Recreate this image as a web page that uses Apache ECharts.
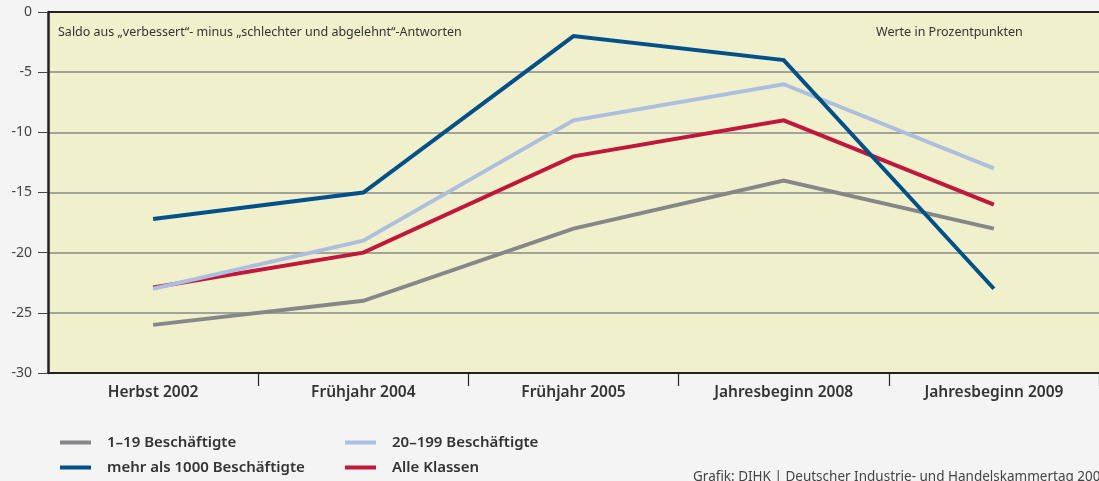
<!DOCTYPE html>
<html><head><meta charset="utf-8">
<script src="https://cdn.jsdelivr.net/npm/echarts@6/dist/echarts.min.js"></script>
<style>html,body{margin:0;padding:0;background:#f3f4f3;}#c{width:1099px;height:481px;}</style>
</head><body><div id="c"></div>
<script>
var categories = ['Herbst 2002', 'Frühjahr 2004', 'Frühjahr 2005', 'Jahresbeginn 2008', 'Jahresbeginn 2009'];
var klein = [-26, -24, -18, -14, -18];          // 1-19 Beschäftigte
var mittel = [-23, -19, -9, -6, -13];          // 20-199 Beschäftigte
var gross = [-17.2, -15, -2, -4, -23];         // mehr als 1000 Beschäftigte
var alle = [-22.9, -20, -12, -9, -16];          // Alle Klassen
var yTicks = [0, -5, -10, -15, -20, -25, -30];

var FONT = '"Noto Sans", "DejaVu Sans", sans-serif';
var chart = echarts.init(document.getElementById('c'), null, {renderer: 'canvas'});
function line(name, data, color, z) {
  return {name: name, type: 'line', data: data, symbol: 'none', z: z,
    lineStyle: {color: color, width: 4, cap: 'butt', join: 'miter'}, itemStyle: {color: color}};
}
var series = [
  line('1–19 Beschäftigte', klein, '#87878a', 2),
  line('Alle Klassen', alle, '#c0173a', 3),
  line('20–199 Beschäftigte', mittel, '#adbfdf', 4),
  line('mehr als 1000 Beschäftigte', gross, '#005189', 5)
];
series[0].markLine = {silent: true, symbol: 'none', label: {show: false},
  lineStyle: {color: '#222', width: 2, type: 'solid'}, data: [{yAxis: 0}]};
chart.setOption({
  backgroundColor: '#f3f4f3',
  animation: false,
  grid: {left: 48, top: 12, width: 1059, bottom: 108, show: true, backgroundColor: '#f1f0cc', borderWidth: 0},
  xAxis: {
    type: 'category', data: categories, boundaryGap: true, position: 'bottom',
    axisLine: {show: true, onZero: false, lineStyle: {color: '#222', width: 2}},
    axisTick: {show: true, inside: false, length: 13, lineStyle: {color: '#222', width: 1.2},
      interval: function (i) { return i > 0; }},
    axisLabel: {color: '#333', fontFamily: FONT, fontSize: 15.5, fontWeight: 600, margin: 12}
  },
  yAxis: {
    type: 'value', min: -30, max: 0, interval: 5,
    axisLine: {show: true, lineStyle: {color: '#222', width: 2.5}},
    axisTick: {show: true, length: 10, lineStyle: {color: '#444', width: 1}},
    axisLabel: {color: '#444', fontFamily: FONT, fontSize: 14, margin: 16,
      formatter: function (v) { return yTicks.indexOf(v) >= 0 ? String(v) : ''; }},
    splitLine: {show: true, lineStyle: {color: '#8a8a8a', width: 1.5}}
  },
  legend: [{
    left: 55, top: 430, orient: 'vertical', itemGap: 10, itemWidth: 31, itemHeight: 4, icon: 'rect',
    data: ['1–19 Beschäftigte', 'mehr als 1000 Beschäftigte'],
    textStyle: {color: '#333', fontFamily: FONT, fontSize: 15, fontWeight: 600, padding: [0, 0, 0, 11]}
  }, {
    left: 340, top: 430, orient: 'vertical', itemGap: 10, itemWidth: 31, itemHeight: 4, icon: 'rect',
    data: ['20–199 Beschäftigte', 'Alle Klassen'],
    textStyle: {color: '#333', fontFamily: FONT, fontSize: 15, fontWeight: 600, padding: [0, 0, 0, 11]}
  }],
  graphic: [
    {type: 'text', left: 58, top: 26, style: {text: 'Saldo aus „verbessert“- minus „schlechter und abgelehnt“-Antworten', fill: '#333', font: '12.5px ' + FONT}},
    {type: 'text', left: 876, top: 26, style: {text: 'Werte in Prozentpunkten', fill: '#333', font: '12.5px ' + FONT}},
    {type: 'text', left: 693, top: 470, style: {text: 'Grafik: DIHK | Deutscher Industrie- und Handelskammertag 2009', fill: '#444', font: '13.5px ' + FONT}}
  ],
  series: series
});
</script></body></html>
